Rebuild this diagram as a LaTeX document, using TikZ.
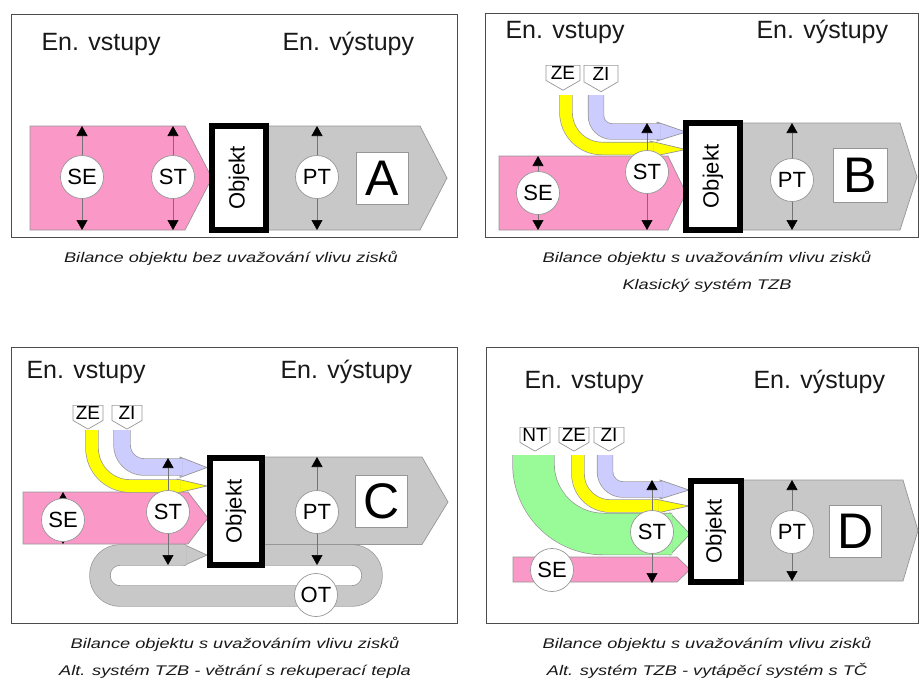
\documentclass[tikz,border=0pt]{standalone}
\usepackage{fontspec}
\setmainfont{Liberation Sans}
\usetikzlibrary{arrows.meta,shapes.symbols}
\definecolor{pinkflow}{RGB}{250,152,200}
\definecolor{yelflow}{RGB}{255,255,0}
\definecolor{lavflow}{RGB}{204,204,255}
\definecolor{greenflow}{RGB}{152,251,152}
\definecolor{grayflow}{RGB}{200,200,200}
\definecolor{edgegray}{RGB}{150,150,150}
\begin{document}
\begin{tikzpicture}[x=1pt,y=-1pt,
	panel/.style={draw=black!70,line width=0.9pt},
	title/.style={anchor=base west,font=\fontsize{25}{25}\selectfont,text=black!90},
	capt/.style={anchor=base,xscale=1.3,font=\fontsize{14}{14}\selectfont\itshape,text=black!90},
	outflow/.style={fill=grayflow,draw=edgegray,line width=0.7pt},
	inflow/.style={fill=pinkflow,draw=edgegray,line width=0.7pt},
	band/.style={draw=edgegray,line width=0.7pt,double=#1},
	head/.style={fill=#1,draw=edgegray,line width=0.7pt},
	dim/.style={draw=black!55,line width=0.6pt,{Triangle[length=10pt,width=11pt,color=black]}-{Triangle[length=10pt,width=11pt,color=black]}},
	flux/.style={circle,draw=edgegray,fill=white,line width=0.7pt,minimum size=43pt,inner sep=0pt,font=\fontsize{22}{22}\selectfont},
	objekt/.style={rectangle,draw=black,line width=6pt,fill=white,rotate=90,minimum height=54pt,minimum width=#1,inner sep=0pt,font=\fontsize{22}{22}\selectfont},
	variant/.style={rectangle,draw=edgegray,fill=white,line width=0.7pt,minimum size=52pt,inner sep=0pt,font=\fontsize{50}{50}\selectfont},
	tag/.style={signal,signal to=south,signal pointer angle=120,draw=edgegray,fill=white,line width=0.7pt,anchor=north,minimum width=30pt,inner sep=1pt,font=\fontsize{19}{19}\selectfont},
	]
	\useasboundingbox (0,0) rectangle (919,681);

	% A - bez zisku
	\draw[panel] (11,14) rectangle (457,237);
	\node[title] (inA) at (38,50) {En. vstupy};
	\node[title] (outA) at (279,50) {En. výstupy};
	\draw[outflow] (262,126) -- (420,126) -- (447,178) -- (420,230) -- (262,230) -- cycle;
	\draw[inflow] (30,126) -- (185,126) -- (212,178) -- (185,230) -- (30,230) -- cycle;
	\draw[dim] (82,126) -- (82,230);
	\draw[dim] (173,126) -- (173,230);
	\draw[dim] (317,126) -- (317,230);
	\node[flux] (seA) at (82,177) {SE};
	\node[flux] (stA) at (173,177) {ST};
	\node[flux] (ptA) at (317,177) {PT};
	\node[objekt=104pt] (objA) at (239,178) {Objekt};
	\node[variant] (varA) at (382,178) {A};
	\node[capt] (capA) at (231,262) {Bilance objektu bez uvažování vlivu zisků};

	% B - klasicky system
	\draw[panel] (485,13) rectangle (918.5,237);
	\node[title] (inB) at (502,38) {En. vstupy};
	\node[title] (outB) at (753,38) {En. výstupy};
	\draw[outflow] (740,123) -- (900,123) -- (917,177) -- (900,230) -- (740,230) -- cycle;
	\draw[inflow] (499,156) -- (668,156) -- (686,193) -- (668,230) -- (499,230) -- cycle;
	\draw[head=yelflow] (650,141) -- (686,149.5) -- (650,157) -- cycle;
	\draw[band=yelflow,double distance=12pt,rounded corners=36pt] (566,95) |- (653,148.5);
	\draw[head=lavflow] (657,122) -- (686,132) -- (657,141) -- cycle;
	\draw[band=lavflow,double distance=15pt,rounded corners=16pt] (596,95) |- (660,131.5);
	\draw[dim] (538,156) -- (538,230);
	\draw[dim] (647,123) -- (647,230);
	\draw[dim] (792,123) -- (792,230);
	\node[flux] (seB) at (538,193) {SE};
	\node[flux] (stB) at (647,172) {ST};
	\node[flux] (ptB) at (792,180) {PT};
	\node[objekt=107pt] (objB) at (713,176.5) {Objekt};
	\node[variant,minimum size=54pt] (varB) at (860,175.5) {B};
	\node[tag,minimum width=34pt,minimum height=22pt] (zeB) at (563,65) {ZE};
	\node[tag,minimum width=34pt,minimum height=22pt] (ziB) at (601,65) {ZI};
	\node[capt] (capB) at (707,262) {Bilance objektu s uvažováním vlivu zisků};
	\node[capt] (capBb) at (707,289) {Klasický systém TZB};

	% C - vetrani s rekuperaci
	\draw[panel] (11,347) rectangle (457,623);
	\node[title] (inC) at (23,378) {En. vstupy};
	\node[title] (outC) at (277,378) {En. výstupy};
	\draw[head=grayflow] (184,544.5) -- (207,555) -- (184,565.5) -- cycle;
	\draw[band=grayflow,double distance=20pt,rounded corners=20pt] (186,555) -- (100,555) -- (100,596) -- (372,596) -- (372,555) -- (260,555);
	\draw[outflow] (262,457) -- (422,457) -- (448,502) -- (422,544.5) -- (262,544.5) -- cycle;
	\draw[inflow] (23,492) -- (188,492) -- (208,518) -- (188,544) -- (23,544) -- cycle;
	\draw[head=yelflow] (177,479) -- (207,486) -- (177,493) -- cycle;
	\draw[band=yelflow,double distance=12pt,rounded corners=38pt] (92,430) |- (180,486);
	\draw[head=lavflow] (180,457) -- (207,467.5) -- (180,477.5) -- cycle;
	\draw[band=lavflow,double distance=16pt,rounded corners=22pt] (122,430) |- (182,467);
	\draw[dim] (63,492) -- (63,544);
	\draw[dim] (168,458) -- (168,565);
	\draw[dim] (317,457) -- (317,565);
	\node[flux] (seC) at (63,520) {SE};
	\node[flux] (stC) at (168,512) {ST};
	\node[flux] (ptC) at (317,512) {PT};
	\node[flux] (otC) at (316,595) {OT};
	\node[objekt=107pt,minimum height=52pt] (objC) at (236,511.5) {Objekt};
	\node[variant] (varC) at (381.5,501) {C};
	\node[tag] (zeC) at (88,405) {ZE};
	\node[tag] (ziC) at (127,405) {ZI};
	\node[capt] (capC) at (235,648) {Bilance objektu s uvažováním vlivu zisků};
	\node[capt] (capCb) at (235,675) {Alt. systém TZB - větrání s rekuperací tepla};

	% D - vytapeci system s TC
	\draw[panel] (486,347) rectangle (918.5,623);
	\node[title] (inD) at (521,388) {En. vstupy};
	\node[title] (outD) at (750,388) {En. výstupy};
	\draw[outflow] (740,480) -- (903,480) -- (918,530.5) -- (903,581) -- (740,581) -- cycle;
	\draw[inflow] (513,557) -- (677,557) -- (690,569.5) -- (677,582) -- (513,582) -- cycle;
	\draw[head=greenflow] (670,513) -- (690,534) -- (670,555) -- cycle;
	\draw[band=greenflow,double distance=41pt,rounded corners=70pt] (533.5,455) |- (672,534);
	\draw[head=yelflow] (655,499) -- (689,506) -- (655,513.5) -- cycle;
	\draw[band=yelflow,double distance=12pt,rounded corners=32pt] (578,455) |- (658,506);
	\draw[head=lavflow] (660,480) -- (689,490) -- (660,499) -- cycle;
	\draw[band=lavflow,double distance=15pt,rounded corners=18pt] (605,455) |- (662,489.5);
	\draw[dim] (652,480) -- (652,583);
	\draw[dim] (792,480) -- (792,581);
	\node[flux] (seD) at (552,570) {SE};
	\node[flux] (stD) at (652,532) {ST};
	\node[flux] (ptD) at (792,532) {PT};
	\node[objekt=101pt,minimum height=50pt] (objD) at (716,531.5) {Objekt};
	\node[variant] (varD) at (855.5,531.5) {D};
	\node[tag] (ntD) at (535,427) {NT};
	\node[tag] (zeD) at (574,427) {ZE};
	\node[tag] (ziD) at (609,427) {ZI};
	\node[capt] (capD) at (707,648) {Bilance objektu s uvažováním vlivu zisků};
	\node[capt] (capDb) at (707,675) {Alt. systém TZB - vytápěcí systém s TČ};
\end{tikzpicture}
\end{document}
